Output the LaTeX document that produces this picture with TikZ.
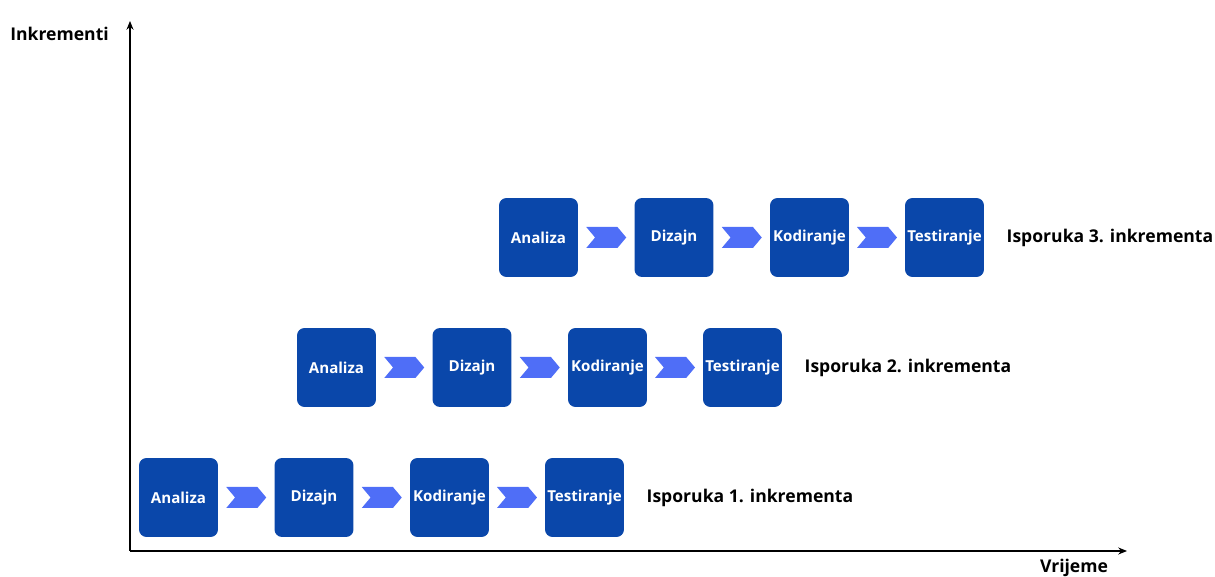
\documentclass[tikz,border=0pt]{standalone}
\usepackage{fontspec}
\setmainfont{Open Sans}
\usepackage{xcolor}
\usepackage{tikz}
\usetikzlibrary{shapes.symbols,arrows.meta,calc}

\definecolor{phaseblue}{HTML}{0A47AA}
\definecolor{chevblue}{HTML}{4F6EF7}

\begin{document}
\begin{tikzpicture}[x=0.02cm, y=-0.02cm,
    phase/.style={draw=none, fill=phaseblue, rounded corners=0.15cm, minimum width=1.58cm,
      minimum height=1.58cm, inner sep=0pt, text=white, font=\bfseries\fontsize{8.6}{10}\selectfont},
    chevron/.style={signal, signal from=west, signal to=east, signal pointer angle=100,
      fill=chevblue, draw=none, minimum width=0.8cm, minimum height=0.42cm, inner sep=0pt},
    delivery/.style={anchor=west, inner sep=0pt, font=\bfseries\fontsize{10}{12}\selectfont},
    axis/.style={line width=0.7pt, -{Stealth[length=5pt,width=4pt]}}]
        \useasboundingbox (0,0) rectangle (1215,577);
        % axes
        \coordinate (O) at (130,551);
        \coordinate (ytop) at (130,21);
        \coordinate (xend) at (1127,551);
        \draw[axis] (O) -- (ytop);
        \draw[axis] (O) -- (xend);
        \node[font=\bfseries\fontsize{10}{12}\selectfont, anchor=west, inner sep=0pt] (ylab) at (10,34) {Inkrementi};
        \node[font=\bfseries\fontsize{10}{12}\selectfont] (xlab) at (1074,568) {Vrijeme};
        % increments
        \foreach \i/\x/\y in {1/178.5/497.5, 2/336.5/367.5, 3/538.5/237.5} {
          \node[phase] (a\i) at (\x,\y) {Analiza};
          \node[phase] (d\i) at (\x+135.5,\y) {Dizajn};
          \node[phase] (k\i) at (\x+271,\y) {Kodiranje};
          \node[phase] (t\i) at (\x+406,\y) {Testiranje};
          \node[chevron] (c\i a) at ($(a\i)!0.5!(d\i)$) {};
          \node[chevron] (c\i b) at ($(d\i)!0.5!(k\i)$) {};
          \node[chevron] (c\i c) at ($(k\i)!0.5!(t\i)$) {};
          \node[delivery] (isp\i) at ([xshift=0.44cm, yshift=-0.5pt]t\i.east) {Isporuka \i. inkrementa};
        }
      \end{tikzpicture}
\end{document}
